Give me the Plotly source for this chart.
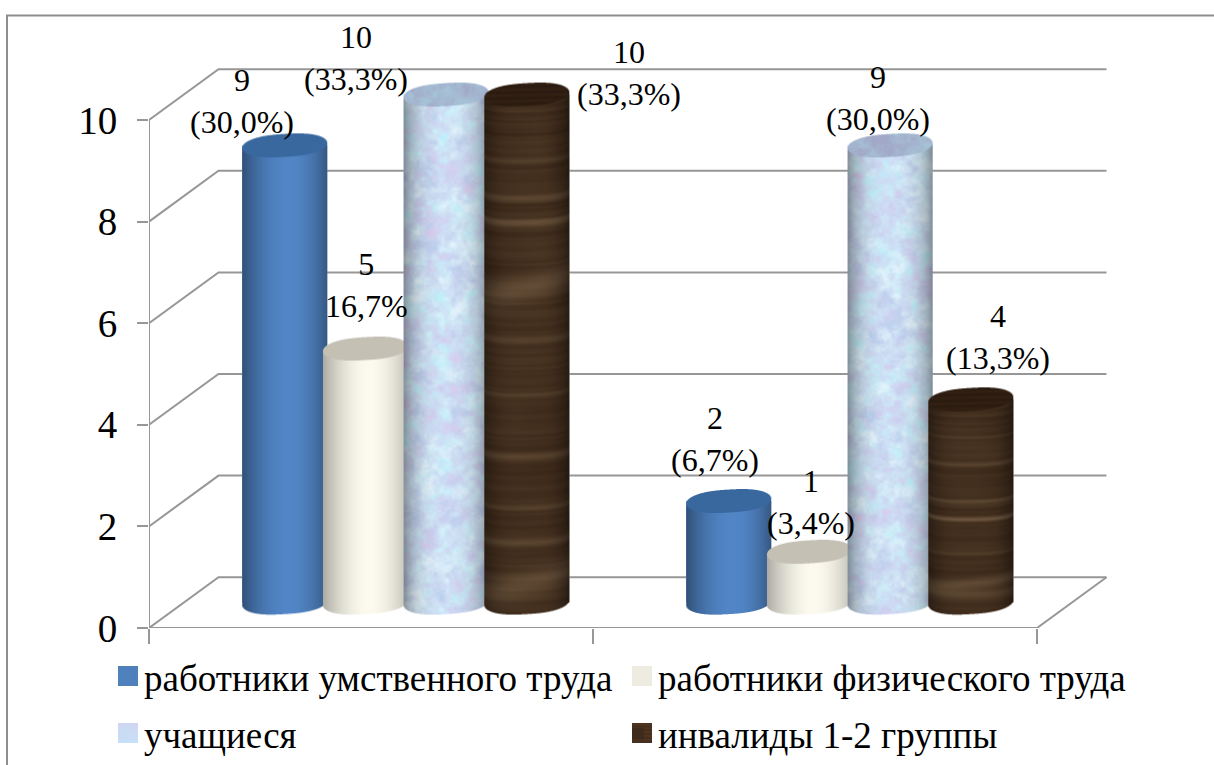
import base64
import struct
import zlib

import numpy as np
import plotly.graph_objects as go

# ---- chart data ----
CATEGORY_SLOTS = [0, 1]
AXIS_TICKS = [0, 2, 4, 6, 8, 10]
MENTAL = [9, 2]
PHYSICAL = [5, 1]
STUDENTS = [10, 9]
DISABLED = [10, 4]
MENTAL_LABELS = ["(30,0%)", "(6,7%)"]
PHYSICAL_LABELS = ["16,7%", "(3,4%)"]
STUDENTS_LABELS = ["(33,3%)", "(30,0%)"]
DISABLED_LABELS = ["(33,3%)", "(13,3%)"]
SERIES_NAMES = [
    "работники умственного труда",
    "работники физического труда",
    "учащиеся",
    "инвалиды 1-2 группы",
]

# ---- page geometry (pixels) ----
W, H = 1214, 765
X0, Y0 = 149, 628          # front corner of the floor
PX_PER_X = 444.0           # one category slot
PX_PER_Y = 50.8            # one value unit
DEPTH_X = 69.5 / PX_PER_X  # offset of the back wall
DEPTH_Y = 1.0
BAR_PX = 85.0
SPACING_PX = 80.7
ELL_B = 11.5               # half height of the cylinder caps
TILT = -0.06               # slope of the caps
BASE = 0.5                 # cylinder foot, half way into the floor
GREY = "#979797"
FONT = "Liberation Serif"


def px2paper_x(px):
    return (px - X0) / (W - X0)


def px2paper_y(py):
    return (Y0 - py) / Y0


def png_uri(rgba):
    """Encode an RGBA uint8 array as a PNG data URI."""
    h, w, _ = rgba.shape
    raw = b"".join(b"\x00" + rgba[i].tobytes() for i in range(h))

    def chunk(tag, data):
        body = tag + data
        return struct.pack(">I", len(data)) + body + struct.pack(">I", zlib.crc32(body))

    png = (b"\x89PNG\r\n\x1a\n"
           + chunk(b"IHDR", struct.pack(">IIBBBBB", w, h, 8, 6, 0, 0, 0))
           + chunk(b"IDAT", zlib.compress(raw, 9))
           + chunk(b"IEND", b""))
    return "data:image/png;base64," + base64.b64encode(png).decode()


def hex_rgb(c):
    return np.array([int(c[i:i + 2], 16) for i in (1, 3, 5)], dtype=float)


def lattice(i, j, seed):
    return np.modf(np.abs(np.sin(i * 127.1 + j * 311.7 + seed)) * 43758.5453)[0]


def value_noise(x, y, cell, seed):
    """Smooth deterministic noise in [0, 1] on a square lattice of the given cell size."""
    gx, gy = x / cell, y / cell
    ix, iy = np.floor(gx), np.floor(gy)
    fx, fy = gx - ix, gy - iy
    fx, fy = fx * fx * (3 - 2 * fx), fy * fy * (3 - 2 * fy)
    top = lattice(ix, iy, seed) * (1 - fx) + lattice(ix + 1, iy, seed) * fx
    bot = lattice(ix, iy + 1, seed) * (1 - fx) + lattice(ix + 1, iy + 1, seed) * fx
    return top * (1 - fy) + bot * fy


def mottle(x, y, seed=0.0):
    """Cloudy field with stretched contrast, in [0, 1]."""
    f = (.45 * value_noise(x, y, 13, seed + 1) + .33 * value_noise(x, y, 6, seed + 2)
         + .22 * value_noise(x, y, 2.5, seed + 3))
    return np.clip((f - .5) * 2.1 + .5, 0, 1)


def side_light(u, left, right, peak=0.1, power=2.2):
    """Brightness across a cylinder: 1 at the highlight, falling to left/right at its edges."""
    d = np.where(u < peak, (peak - u) / (1 + peak), (u - peak) / (1 - peak))
    edge = np.where(u < peak, left, right)
    return 1 - (1 - edge) * np.clip(d, 0, 1) ** power


TALL_RINGS = [(.19, .008, .2), (.24, .008, .35), (.37, .03, .3), (.47, .008, .22),
              (.58, .007, .16), (.70, .008, .2), (.80, .007, .2), (.87, .008, .25),
              (.955, .028, .3), (.12, .006, .12), (.30, .006, .12)]
SHORT_RINGS = [(.16, .01, .16), (.29, .01, .16), (.47, .01, .25), (.56, .012, .4),
               (.73, .01, .16), (.88, .03, .3), (.93, .02, .22)]


def surface(kind, u, x, y, t, body, half, rings):
    """Colour of a cylinder's side for each series."""
    if kind == 0:
        c = hex_rgb("#5286c7")[None, None] * side_light(u, .60, .66, power=2.0)[..., None]
    elif kind == 1:
        c = hex_rgb("#fdfbef")[None, None] * side_light(u, .68, .76, power=1.9)[..., None]
    elif kind == 2:
        m = mottle(x, y, 3.0)[..., None]
        n = mottle(x, y, 9.0)[..., None]
        lav, sky = hex_rgb("#d8cff0")[None, None], hex_rgb("#c0effa")[None, None]
        blue, pale = hex_rgb("#bcd2ef")[None, None], hex_rgb("#e6f3fc")[None, None]
        c = (lav * (1 - m) + sky * m) * (1 - n) + (blue * (1 - m) + pale * m) * n
        c = c * side_light(u, .62, .62, peak=0.0, power=2.8)[..., None]
    else:
        # growth rings follow the curve of the column
        t2 = t - 0.55 * half / max(body, 1) + 0.002 * u
        px = t2 * body
        zero = np.zeros_like(px)
        fine = (.6 * value_noise(zero, px, 2.6, 5.0) + .4 * value_noise(zero, px, 7.0, 6.0) - .5)
        g = 0.20 + 0.20 * fine * (1.15 - 0.5 * np.clip(t2, 0, 1))
        g = g + 0.05 * (value_noise(x, y, 24, 8.0) - .5)
        for pos, wid, amp in rings:
            slope = 0.018 * (u + 0.2) if wid > .02 else 0.0
            g = g + amp * np.exp(-((t2 - pos + slope) / wid) ** 2)
        g = np.clip(g, 0, 1)[..., None]
        c = hex_rgb("#321f11")[None, None] * (1 - g) + hex_rgb("#8f7659")[None, None] * g
        c = c * side_light(u, .62, .55, peak=0.05, power=3.0)[..., None]
    return c


def cap(kind, u, x, y):
    if kind == 0:
        c = hex_rgb("#39689f")[None, None] * np.ones(u.shape + (1,))
    elif kind == 1:
        c = hex_rgb("#c4c1b4")[None, None] * np.ones(u.shape + (1,))
    elif kind == 2:
        m = mottle(x, y, 3.0)[..., None]
        c = hex_rgb("#a2a9c8")[None, None] * (1 - m) + hex_rgb("#a6c2d6")[None, None] * m
    else:
        c = hex_rgb("#2f1e12")[None, None] * (1 + 0.10 * np.sin(y * 1.1 + 0.02 * x))[..., None]
    return c


def cylinder_image(kind, value, origin_x):
    """Shaded cylinder bitmap; returns the URI, its overhang and its size in pixels."""
    a = BAR_PX / 2
    over = ELL_B + abs(TILT) * a + 2
    body = value * PX_PER_Y
    pw, ph = int(BAR_PX + 2), int(round(body + 2 * over))
    ss = 3
    xs = (np.arange(pw * ss) + .5) / ss
    ys = (np.arange(ph * ss) + .5) / ss
    x, y = np.meshgrid(xs, ys)
    dx = x - pw / 2
    u = dx / a
    inside = np.abs(u) <= 1
    # slightly squared ellipse for the cap outline
    half = ELL_B * np.clip(1 - np.abs(u) ** 2.6, 0, 1) ** 0.5
    top_c = over + TILT * dx
    bot_c = over + body + TILT * dx
    side_mask = inside & (y >= top_c) & (y <= bot_c + half)
    cap_mask = inside & (np.abs(y - top_c) <= half)
    t = (y - over) / max(body, 1)
    rings = TALL_RINGS if value >= 6 else SHORT_RINGS
    ax, ay = x + origin_x, y + 40 * kind
    col = surface(kind, u, ax, ay, t, body, half, rings)
    col = np.where(cap_mask[..., None], cap(kind, u, ax, ay), col)
    alpha = (side_mask | cap_mask).astype(float)
    rgba = np.dstack([col * alpha[..., None], alpha * 255])
    rgba = rgba.reshape(ph, ss, pw, ss, 4).mean(axis=(1, 3))
    a_ = rgba[..., 3:] / 255
    rgba[..., :3] = np.where(a_ > 0, rgba[..., :3] / np.maximum(a_, 1e-6), 0)
    return png_uri(np.clip(rgba, 0, 255).astype(np.uint8)), over, pw, ph


def swatch_image(kind):
    """Small texture sample used as a legend key."""
    x, y = np.meshgrid(np.arange(20) * 3.0, np.arange(20) * 3.0)
    if kind == 0:
        c = np.ones((20, 20, 3)) * hex_rgb("#5080bb")
    elif kind == 1:
        c = np.ones((20, 20, 3)) * hex_rgb("#eeece1")
    elif kind == 2:
        m = np.clip(y / 20 / 3, 0, 1)[..., None]
        c = hex_rgb("#d2d6f2") * (1 - m) + hex_rgb("#c6e2fa") * m
    else:
        c = hex_rgb("#4a3220") * (1 + .08 * np.sin(y * .55))[..., None]
    return png_uri(np.dstack([c, np.full((20, 20), 255.0)]).astype(np.uint8))


series_values = [MENTAL, PHYSICAL, STUDENTS, DISABLED]
series_labels = [MENTAL_LABELS, PHYSICAL_LABELS, STUDENTS_LABELS, DISABLED_LABELS]
series_colors = ["#4f81bd", "#eeece1", "#c9dcf3", "#3f2b1b"]

# hand-placed value labels: shift from each cylinder's cap, in pixels
LABEL_SHIFT = [
    [(-43, -44), (-14, -62)],
    [(1, -64), (2, -50)],
    [(-90, -37), (-12, -47)],
    [(102, -22), (27, -62)],
]
LEGEND_ANCHORS = [(104, 677), (618, 677), (104, 734), (618, 734)]
SWATCH_ANCHORS = [(118, 666), (632, 666), (118, 723), (632, 723)]

fig = go.Figure()

# walls, floor and axis lines
axis_line = dict(color=GREY, width=2)
for tick in AXIS_TICKS:
    fig.add_trace(go.Scatter(
        x=[0, DEPTH_X, 2 + DEPTH_X], y=[tick, tick + DEPTH_Y, tick + DEPTH_Y],
        mode="lines", line=axis_line, showlegend=False, hoverinfo="skip", cliponaxis=False))
fig.add_trace(go.Scatter(x=[0, 0], y=[0, AXIS_TICKS[-1]], mode="lines", line=axis_line,
                         showlegend=False, hoverinfo="skip", cliponaxis=False))
fig.add_trace(go.Scatter(x=[0, 2, 2 + DEPTH_X], y=[0, 0, DEPTH_Y], mode="lines", line=axis_line,
                         showlegend=False, hoverinfo="skip", cliponaxis=False))

images, annotations = [], []
for s, (name, values, labels, color) in enumerate(zip(SERIES_NAMES, series_values, series_labels, series_colors)):
    offset = (s - 1.5) * SPACING_PX / PX_PER_X
    centres = [c + 0.5 + DEPTH_X / 2 + offset for c in CATEGORY_SLOTS]
    legend_id = "legend" if s == 0 else f"legend{s + 1}"
    fig.add_trace(go.Bar(
        x=centres, y=values, base=BASE, width=BAR_PX / PX_PER_X, name=name,
        marker=dict(color=color, line=dict(width=0)), legend=legend_id))
    for i, (cx, v) in enumerate(zip(centres, values)):
        uri, over, pw, ph = cylinder_image(s, v, cx * PX_PER_X)
        images.append(dict(
            source=uri, xref="x", yref="y", layer="above", sizing="stretch",
            x=cx - pw / 2 / PX_PER_X, y=BASE + v + over / PX_PER_Y,
            sizex=pw / PX_PER_X, sizey=ph / PX_PER_Y,
            xanchor="left", yanchor="top"))
        sx, sy = LABEL_SHIFT[s][i]
        annotations.append(dict(
            x=cx, y=BASE + v, xref="x", yref="y", text=f"{v}<br>{labels[i]}",
            showarrow=False, xanchor="center", yanchor="middle", xshift=sx, yshift=-sy,
            font=dict(family=FONT, size=32, color="black")))
    sw_x, sw_y = SWATCH_ANCHORS[s]
    images.append(dict(
        source=swatch_image(s), xref="paper", yref="paper", layer="above", sizing="stretch",
        x=px2paper_x(sw_x), y=px2paper_y(sw_y), sizex=20 / (W - X0), sizey=20 / Y0,
        xanchor="left", yanchor="top"))

legend_layouts = {}
for s, (lx, ly) in enumerate(LEGEND_ANCHORS):
    legend_layouts["legend" if s == 0 else f"legend{s + 1}"] = dict(
        x=px2paper_x(lx), y=px2paper_y(ly), xanchor="left", yanchor="middle",
        bgcolor="rgba(0,0,0,0)", borderwidth=0, font=dict(family=FONT, size=37, color="black"))

# outer chart frame, open to the right and below
frame = [
    dict(type="line", xref="paper", yref="paper", x0=px2paper_x(6), x1=px2paper_x(W),
         y0=px2paper_y(15.5), y1=px2paper_y(15.5), line=dict(color="#8e8e8e", width=2)),
    dict(type="line", xref="paper", yref="paper", x0=px2paper_x(7), x1=px2paper_x(7),
         y0=px2paper_y(15), y1=px2paper_y(H), line=dict(color="#8e8e8e", width=2)),
]

fig.update_layout(
    width=W, height=H, barmode="overlay", showlegend=True,
    paper_bgcolor="white", plot_bgcolor="white",
    margin=dict(l=X0, r=0, t=0, b=H - Y0, autoexpand=False),
    xaxis=dict(range=[0, (W - X0) / PX_PER_X], tickvals=[0, 1, 2], ticktext=["", "", ""],
               ticks="outside", ticklen=15, tickwidth=2, tickcolor=GREY,
               showgrid=False, zeroline=False, showline=False),
    yaxis=dict(range=[0, Y0 / PX_PER_Y], tickvals=AXIS_TICKS, ticks="outside", ticklen=11,
               tickwidth=2, tickcolor=GREY, showgrid=False, zeroline=False, showline=False,
               ticklabelstandoff=12, tickfont=dict(family=FONT, size=39, color="black")),
    images=images, annotations=annotations, shapes=frame, **legend_layouts,
)

fig.write_html("out.html")
